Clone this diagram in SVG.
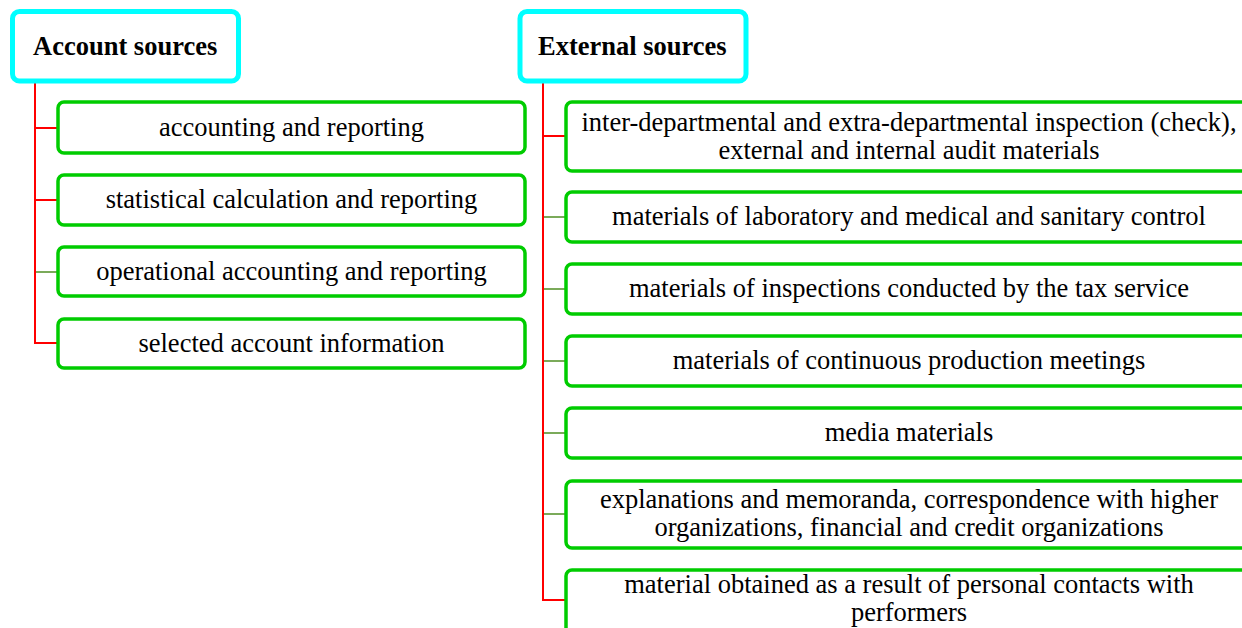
<svg xmlns="http://www.w3.org/2000/svg" width="1242" height="628" viewBox="0 0 1242 628">
<style>
.hdr{fill:#fff;stroke:#00FFFF;stroke-width:5}
.box{fill:#fff;stroke:#00CC00;stroke-width:3.5}
.ht{font-family:"Liberation Serif","Times New Roman",serif;font-weight:bold;font-size:26.5px;fill:#000}
.t{font-family:"Liberation Serif","Times New Roman",serif;font-size:26.5px;fill:#000;text-anchor:middle}
.r{stroke:#FF0000;stroke-width:2;fill:none}
.o{stroke:#7BAA5A;stroke-width:2;fill:none}
</style>
<rect width="1242" height="628" fill="#fff"/>
<g id="connectors">
<line class="r" x1="35" y1="83" x2="35" y2="344"/>
<line class="r" x1="34" y1="128" x2="58" y2="128"/>
<line class="r" x1="34" y1="200" x2="58" y2="200"/>
<line class="o" x1="36" y1="272" x2="58" y2="272"/>
<line class="r" x1="34" y1="343" x2="58" y2="343"/>
<line class="r" x1="543" y1="83" x2="543" y2="601"/>
<line class="r" x1="542" y1="136" x2="566" y2="136"/>
<line class="o" x1="544" y1="217" x2="566" y2="217"/>
<line class="o" x1="544" y1="289" x2="566" y2="289"/>
<line class="o" x1="544" y1="361" x2="566" y2="361"/>
<line class="o" x1="544" y1="433" x2="566" y2="433"/>
<line class="o" x1="544" y1="514" x2="566" y2="514"/>
<line class="r" x1="542" y1="600" x2="566" y2="600"/>
</g>
<g id="account-sources">
<rect class="hdr" x="12.5" y="11.5" width="226" height="69.5" rx="7"/>
<text class="ht" x="33" y="55">Account sources</text>
</g>
<g id="a1">
<rect class="box" x="58" y="102" width="467" height="51" rx="6"/>
<text class="t" x="291.5" y="136">accounting and reporting</text>
</g>
<g id="a2">
<rect class="box" x="58" y="175" width="467" height="50" rx="6"/>
<text class="t" x="291.5" y="208">statistical calculation and reporting</text>
</g>
<g id="a3">
<rect class="box" x="58" y="247" width="467" height="49" rx="6"/>
<text class="t" x="291.5" y="280">operational accounting and reporting</text>
</g>
<g id="a4">
<rect class="box" x="58" y="319" width="467" height="49" rx="6"/>
<text class="t" x="291.5" y="352">selected account information</text>
</g>
<g id="external-sources">
<rect class="hdr" x="520" y="11.5" width="226" height="69.5" rx="7"/>
<text class="ht" x="538" y="55">External sources</text>
</g>
<g id="e1">
<rect class="box" x="566" y="102" width="700" height="69" rx="6"/>
<text class="t" x="909" y="131">inter-departmental and extra-departmental inspection (check),</text>
<text class="t" x="909" y="159">external and internal audit materials</text>
</g>
<g id="e2">
<rect class="box" x="566" y="192" width="700" height="50" rx="6"/>
<text class="t" x="909" y="225">materials of laboratory and medical and sanitary control</text>
</g>
<g id="e3">
<rect class="box" x="566" y="264" width="700" height="50" rx="6"/>
<text class="t" x="909" y="297">materials of inspections conducted by the tax service</text>
</g>
<g id="e4">
<rect class="box" x="566" y="336" width="700" height="50" rx="6"/>
<text class="t" x="909" y="369">materials of continuous production meetings</text>
</g>
<g id="e5">
<rect class="box" x="566" y="408" width="700" height="50" rx="6"/>
<text class="t" x="909" y="441">media materials</text>
</g>
<g id="e6">
<rect class="box" x="566" y="481" width="700" height="67" rx="6"/>
<text class="t" x="909" y="508">explanations and memoranda, correspondence with higher</text>
<text class="t" x="909" y="536">organizations, financial and credit organizations</text>
</g>
<g id="e7">
<rect class="box" x="566" y="570" width="700" height="80" rx="6"/>
<text class="t" x="909" y="593">material obtained as a result of personal contacts with</text>
<text class="t" x="909" y="621">performers</text>
</g>
</svg>
